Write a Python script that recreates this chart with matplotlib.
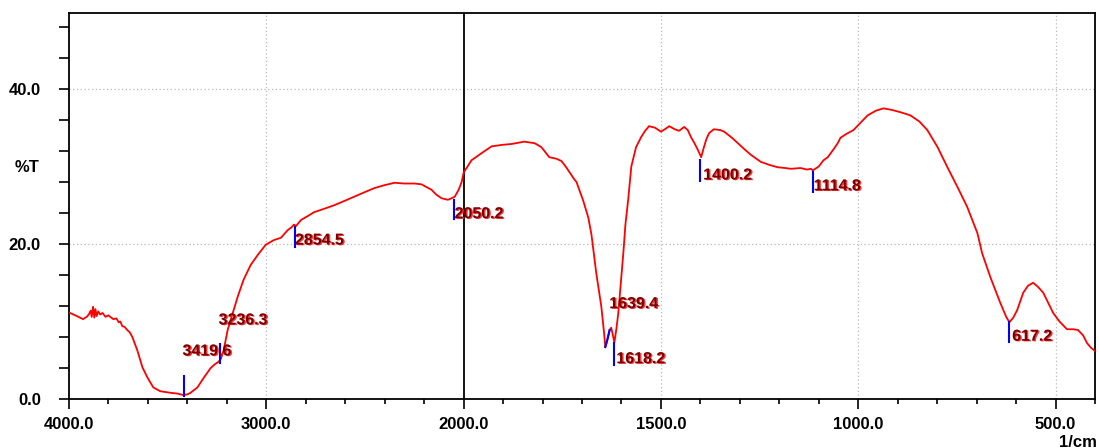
import numpy as np
import matplotlib
matplotlib.use("Agg")
import matplotlib.pyplot as plt
import matplotlib.patheffects as pe

# FTIR spectrum (wavenumber in 1/cm, %T)
wavenumber = [
    4000, 3995, 3960, 3929, 3910, 3900, 3890, 3885, 3878, 3872, 3866, 3860, 3852, 3842,
    3830, 3815, 3800, 3791, 3775, 3760, 3748, 3740, 3730, 3718, 3705, 3692, 3679, 3654,
    3628, 3603, 3573, 3537, 3486, 3450, 3420, 3400, 3384, 3349, 3318, 3282, 3260, 3242,
    3230, 3216, 3196, 3170, 3145, 3115, 3079, 3043, 3003, 2962, 2926, 2891, 2870, 2860,
    2850, 2824, 2790, 2758, 2700, 2656, 2600, 2555, 2500, 2453, 2400, 2382, 2351, 2300,
    2250, 2214, 2163, 2140, 2112, 2080, 2061, 2045, 2025, 2010, 2000, 1980, 1955, 1929,
    1900, 1879, 1846, 1820, 1803, 1783, 1765, 1752, 1740, 1719, 1714, 1697, 1684, 1676,
    1664, 1651, 1644, 1641, 1636, 1630, 1626, 1622, 1618, 1613, 1608, 1601, 1595, 1590,
    1583, 1575, 1563, 1550, 1540, 1530, 1515, 1500, 1490, 1479, 1465, 1454, 1441, 1432,
    1424, 1415, 1406, 1398, 1391, 1385, 1378, 1366, 1350, 1340, 1320, 1305, 1290, 1272,
    1247, 1225, 1204, 1185, 1171, 1146, 1130, 1120, 1115, 1100, 1088, 1077, 1060, 1052,
    1045, 1030, 1019, 1012, 995, 976, 955, 936, 915, 893, 868, 845, 825, 799,
    774, 749, 724, 698, 686, 665, 640, 625, 617, 607, 597, 582, 570, 557,
    545, 531, 506, 490, 471, 455, 443, 430, 420, 410, 400,
]
transmittance = [
    11.1, 11.1, 10.7, 10.3, 10.6, 10.9, 11.4, 10.6, 11.9, 10.5, 11.6, 10.7, 11.3, 10.9,
    11.1, 10.6, 10.8, 10.6, 10.3, 10.4, 9.9, 10.0, 9.4, 9.3, 8.9, 8.6, 8.0, 6.3,
    4.1, 2.8, 1.5, 1.0, 0.8, 0.7, 0.5, 0.6, 0.8, 1.5, 2.7, 4.0, 4.5, 4.8,
    5.2, 6.3, 8.9, 11.1, 13.2, 15.4, 17.3, 18.6, 19.9, 20.5, 20.8, 21.8, 22.2, 22.5,
    22.3, 23.1, 23.6, 24.1, 24.6, 25.0, 25.6, 26.1, 26.7, 27.2, 27.6, 27.7, 27.9, 27.8,
    27.8, 27.7, 27.0, 26.4, 25.9, 25.7, 25.9, 26.1, 27.0, 28.0, 29.2, 30.8, 31.7, 32.6,
    32.8, 32.9, 33.2, 33.0, 32.5, 31.2, 31.0, 30.7, 29.9, 28.3, 28.0, 25.6, 23.4, 21.2,
    16.3, 11.9, 8.5, 6.7, 7.6, 8.9, 9.2, 8.3, 7.3, 9.0, 11.1, 15.4, 19.0, 22.5,
    25.7, 30.0, 32.5, 33.8, 34.6, 35.2, 35.0, 34.5, 34.8, 35.2, 34.8, 34.6, 35.1, 34.7,
    33.8, 33.0, 32.1, 31.2, 32.5, 33.5, 34.3, 34.8, 34.7, 34.5, 33.7, 33.0, 32.3, 31.5,
    30.6, 30.2, 29.9, 29.8, 29.7, 29.8, 29.6, 29.7, 29.5, 30.0, 30.8, 31.2, 32.4, 33.0,
    33.7, 34.2, 34.5, 34.7, 35.6, 36.6, 37.2, 37.5, 37.3, 37.0, 36.6, 35.8, 34.7, 32.5,
    29.9, 27.4, 24.8, 21.4, 18.8, 15.7, 12.4, 10.6, 9.9, 10.5, 11.5, 13.7, 14.6, 15.0,
    14.5, 13.7, 11.1, 10.0, 9.0, 9.0, 8.9, 8.2, 7.2, 6.6, 6.2,
]

# picked peaks
peak_labels = ["3419.6", "3236.3", "2854.5", "2050.2", "1639.4", "1618.2", "1400.2", "1114.8", "617.2"]
peak_wn = [3419.6, 3236.3, 2854.5, 2050.2, 1639.4, 1618.2, 1400.2, 1114.8, 617.2]
# vertical marker extent (%T) and label anchor (left edge wn, centre %T)
marker_span = [(0.4, 3.0), (4.6, 7.1), (19.6, 22.2), (23.2, 25.7), None,
               (4.4, 7.2), (28.1, 30.8), (26.7, 29.3), (7.4, 9.9)]
label_pos = [(3425, 6.2), (3242, 10.2), (2855, 20.5), (2046, 23.9), (1631, 12.3),
             (1613, 5.2), (1393, 28.9), (1113, 27.5), (610, 8.1)]

x_major = [4000, 3000, 2000, 1500, 1000, 500]
x_minor = [3800, 3600, 3400, 3200, 2800, 2600, 2400, 2200,
           1900, 1800, 1700, 1600, 1400, 1300, 1200, 1100, 900, 800, 700, 600, 400]
y_major = [0, 20, 40]
y_minor = [4, 8, 12, 16, 24, 28, 32, 36, 44, 48]


# Shimadzu-style axis: below 2000 1/cm the scale is doubled
def fwd(x):
    x = np.asarray(x, dtype=float)
    return np.where(x >= 2000, x, 2 * x - 2000)


def inv(u):
    u = np.asarray(u, dtype=float)
    return np.where(u >= 2000, u, (u + 2000) / 2)


plt.rcParams["font.family"] = ["Liberation Sans", "DejaVu Sans"]
plt.rcParams["font.weight"] = "bold"

fig = plt.figure(figsize=(10.99, 4.48), dpi=100)
ax = fig.add_axes([69 / 1099, 49 / 448, 1026 / 1099, 386 / 448])
ax.set_xscale("function", functions=(fwd, inv))
ax.set_xlim(4000, 400)
ax.set_ylim(0, 49.8)

# grid
for gx in [3000, 1500, 1000, 500]:
    ax.axvline(gx, color="#b8b8b8", lw=0.9, ls=(0, (1, 2)), zorder=0)
for gy in [20, 40]:
    ax.axhline(gy, color="#b8b8b8", lw=0.9, ls=(0, (1, 2)), zorder=0)
ax.axvline(2000, color="black", lw=1.3, zorder=1)

wn = np.array(wavenumber)
tr = np.array(transmittance)
ax.plot(wn, tr, color="#ff0000", lw=1.3, zorder=3)
seg = (wn <= 1642) & (wn >= 1628)
ax.plot(wn[seg], tr[seg], color="#0000ff", lw=1.5, zorder=4)

shadow = [pe.withSimplePatchShadow(offset=(1, -0.5), shadow_rgbFace="#ff2020", alpha=0.9)]
for lab, pw, span, (lx, ly) in zip(peak_labels, peak_wn, marker_span, label_pos):
    if span is not None:
        ax.plot([pw, pw], span, color="#0000ff", lw=1.5, zorder=4)
    ax.text(lx, ly, lab, color="#7a0000", fontsize=11.5, ha="left", va="center",
            path_effects=shadow, zorder=5)

ax.set_xticks(x_major)
ax.set_xticklabels([f"{v:.1f}" for v in x_major])
ax.set_xticks(x_minor, minor=True)
ax.set_yticks(y_major)
ax.set_yticklabels([f"{v:.1f}" for v in y_major])
ax.set_yticks(y_minor, minor=True)

ax.tick_params(axis="x", which="major", length=7, width=1.2, pad=6, labelsize=12, direction="out")
ax.tick_params(axis="x", which="minor", length=3.6, width=1.2, direction="out")
ax.tick_params(axis="y", which="both", length=7.2, width=1.2, pad=13, labelsize=12, direction="out")

for s in ax.spines.values():
    s.set_linewidth(1.3)

fig.text(39 / 1099, 1 - 167 / 448, "%T", ha="right", va="center", fontsize=12)
fig.text(1097 / 1099, 1 - 442 / 448, "1/cm", ha="right", va="center", fontsize=12)

fig.savefig("out.png", dpi=100)
